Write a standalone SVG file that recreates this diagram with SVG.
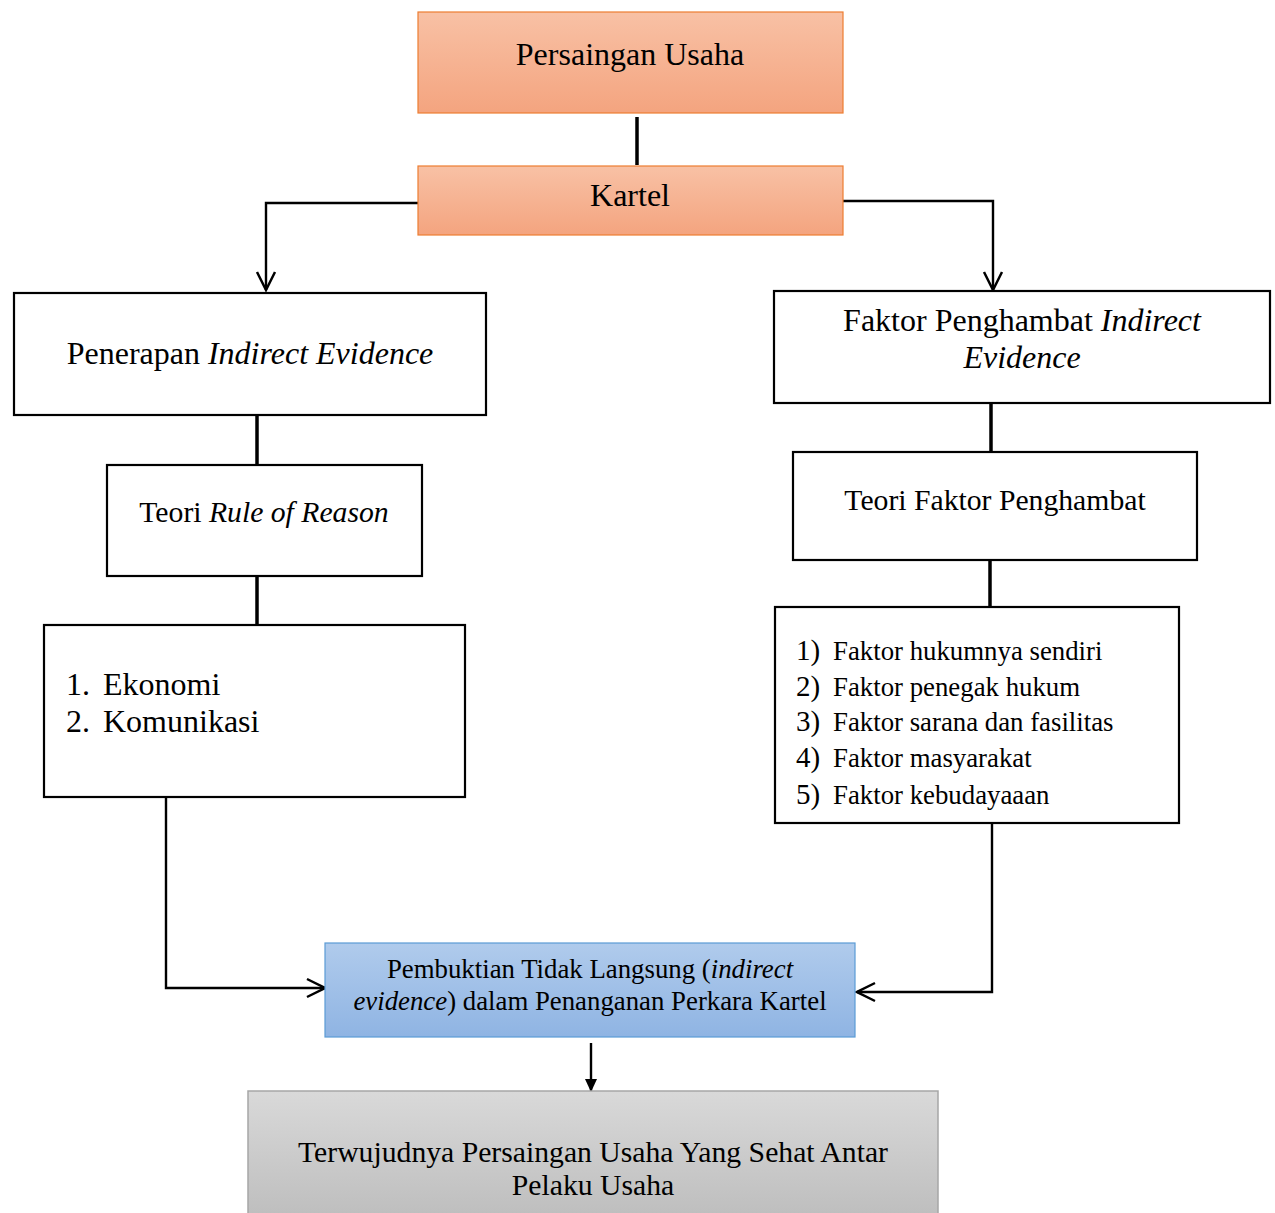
<svg xmlns="http://www.w3.org/2000/svg" width="1275" height="1213" viewBox="0 0 1275 1213">
<defs>
<linearGradient id="gOrange" x1="0" y1="0" x2="0" y2="1"><stop offset="0" stop-color="#f8c1a5"/><stop offset="1" stop-color="#f4a47f"/></linearGradient>
<linearGradient id="gBlue" x1="0" y1="0" x2="0" y2="1"><stop offset="0" stop-color="#b0cbec"/><stop offset="1" stop-color="#8fb4e3"/></linearGradient>
<linearGradient id="gGray" x1="0" y1="0" x2="0" y2="1"><stop offset="0" stop-color="#d9d9d9"/><stop offset="1" stop-color="#bdbdbd"/></linearGradient>
<marker id="open" viewBox="0 0 22 22" refX="20" refY="11" markerWidth="22" markerHeight="22" markerUnits="userSpaceOnUse" orient="auto"><path d="M2,2 L20,11 L2,20" fill="none" stroke="#000" stroke-width="2.5"/></marker>
<marker id="solid" viewBox="0 0 14 14" refX="12" refY="7" markerWidth="14" markerHeight="14" markerUnits="userSpaceOnUse" orient="auto"><path d="M0,1 L13,7 L0,13 Z" fill="#000"/></marker>
</defs>
<style>
text{font-family:"Liberation Serif","Times New Roman",serif;fill:#000}
.box{fill:#fff;stroke:#000;stroke-width:2.2}
.org{fill:url(#gOrange);stroke:#ed7d31;stroke-width:1.2}
.blu{fill:url(#gBlue);stroke:#5b9bd5;stroke-width:1.2}
.gry{fill:url(#gGray);stroke:#a6a6a6;stroke-width:1.5}
.thick{stroke:#000;stroke-width:3.5;fill:none}
.conn{stroke:#000;stroke-width:2.4;fill:none}
.c{text-anchor:middle}
.big{font-size:32px}
.mid{font-size:29.7px}
.sm{font-size:26.8px}
.num{font-size:29px}
</style>
<g id="connectors">
<line class="thick" x1="637" y1="117" x2="637" y2="165"/>
<polyline class="conn" points="418,203 266,203 266,290" marker-end="url(#open)"/>
<polyline class="conn" points="843,201 993,201 993,290" marker-end="url(#open)"/>
<line class="thick" x1="257" y1="415" x2="257" y2="465"/>
<line class="thick" x1="257" y1="576" x2="257" y2="625"/>
<line class="thick" x1="991" y1="403" x2="991" y2="452"/>
<line class="thick" x1="990" y1="560" x2="990" y2="607"/>
<polyline class="conn" points="166,797 166,988 325,988" marker-end="url(#open)"/>
<polyline class="conn" points="992,823 992,992 857,992" marker-end="url(#open)"/>
<line class="conn" x1="591" y1="1043" x2="591" y2="1091" marker-end="url(#solid)"/>
</g>
<g id="persaingan">
<rect class="org" x="418" y="12" width="425" height="101"/>
<text class="c big" x="630" y="65">Persaingan Usaha</text>
</g>
<g id="kartel">
<rect class="org" x="418" y="166" width="425" height="69"/>
<text class="c big" x="630" y="206">Kartel</text>
</g>
<g id="penerapan">
<rect class="box" x="14" y="293" width="472" height="122"/>
<text class="c big" x="250" y="364">Penerapan <tspan font-style="italic">Indirect Evidence</tspan></text>
</g>
<g id="teori-ror">
<rect class="box" x="107" y="465" width="315" height="111"/>
<text class="c mid" x="264" y="522">Teori <tspan font-style="italic">Rule of Reason</tspan></text>
</g>
<g id="ekonomi">
<rect class="box" x="44" y="625" width="421" height="172"/>
<text class="big" x="66" y="695">1.</text><text class="big" x="103" y="695">Ekonomi</text>
<text class="big" x="66" y="732">2.</text><text class="big" x="103" y="732">Komunikasi</text>
</g>
<g id="faktor-penghambat">
<rect class="box" x="774" y="291" width="496" height="112"/>
<text class="c big" x="1022" y="331">Faktor Penghambat <tspan font-style="italic">Indirect</tspan></text>
<text class="c big" x="1022" y="368" font-style="italic">Evidence</text>
</g>
<g id="teori-fp">
<rect class="box" x="793" y="452" width="404" height="108"/>
<text class="c mid" x="995" y="510">Teori Faktor Penghambat</text>
</g>
<g id="list">
<rect class="box" x="775" y="607" width="404" height="216"/>
<text class="num" x="796" y="660">1)</text><text class="sm" x="833" y="660">Faktor hukumnya sendiri</text>
<text class="num" x="796" y="696">2)</text><text class="sm" x="833" y="696">Faktor penegak hukum</text>
<text class="num" x="796" y="731">3)</text><text class="sm" x="833" y="731">Faktor sarana dan fasilitas</text>
<text class="num" x="796" y="767">4)</text><text class="sm" x="833" y="767">Faktor masyarakat</text>
<text class="num" x="796" y="804">5)</text><text class="sm" x="833" y="804">Faktor kebudayaaan</text>
</g>
<g id="pembuktian">
<rect class="blu" x="325" y="943" width="530" height="94"/>
<text class="c sm" x="590" y="978">Pembuktian Tidak Langsung (<tspan font-style="italic">indirect</tspan></text>
<text class="c sm" x="590" y="1010"><tspan font-style="italic">evidence</tspan>) dalam Penanganan Perkara Kartel</text>
</g>
<g id="terwujudnya">
<rect class="gry" x="248" y="1091" width="690" height="130"/>
<text class="c mid" x="593" y="1162">Terwujudnya Persaingan Usaha Yang Sehat Antar</text>
<text class="c mid" x="593" y="1195">Pelaku Usaha</text>
</g>
</svg>
